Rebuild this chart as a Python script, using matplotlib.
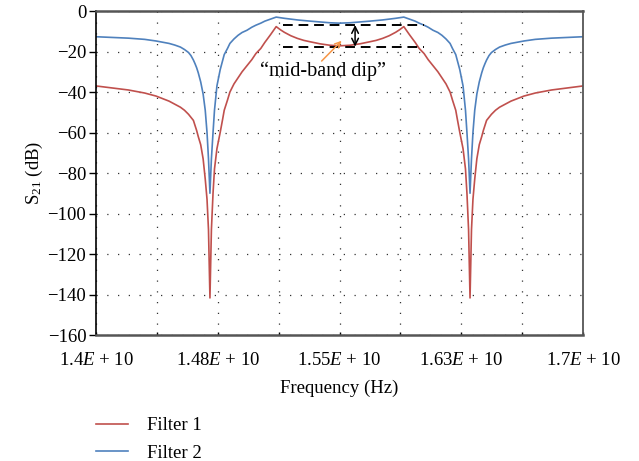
import matplotlib
matplotlib.use("Agg")
import matplotlib.pyplot as plt

plt.rcParams['font.family'] = ['Liberation Serif', 'DejaVu Serif']
plt.rcParams['mathtext.fontset'] = 'custom'
plt.rcParams['mathtext.rm'] = 'Liberation Serif'
plt.rcParams['mathtext.it'] = 'Liberation Serif:italic'

# frequency in units of 1E+10 Hz
freq_left = [1.400, 1.420, 1.430, 1.437, 1.445, 1.4485, 1.452, 1.4545, 1.457, 1.4585,
             1.460, 1.461, 1.462, 1.463, 1.4645, 1.466, 1.4673, 1.4684, 1.4693, 1.4702,
             1.4711, 1.4721, 1.473, 1.4745, 1.4755, 1.4765, 1.478, 1.479, 1.481, 1.4825,
             1.485, 1.4875, 1.490, 1.493, 1.496, 1.4985, 1.5015, 1.504, 1.5075, 1.511,
             1.5135, 1.516, 1.520, 1.524, 1.528, 1.532, 1.538, 1.544, 1.550]
freq_right = [1.5566, 1.5626, 1.5686, 1.5726, 1.5766, 1.5806, 1.5846, 1.5871, 1.5896, 1.5931,
              1.5966, 1.5991, 1.6021, 1.6046, 1.6076, 1.6106, 1.6131, 1.6156, 1.6181, 1.6196,
              1.6216, 1.6226, 1.6241, 1.6251, 1.6261, 1.6276, 1.6285, 1.6295, 1.6304, 1.6313,
              1.6322, 1.6333, 1.6346, 1.6361, 1.6376, 1.6386, 1.6396, 1.6406, 1.6421, 1.6436,
              1.6461, 1.6486, 1.6521, 1.6556, 1.6636, 1.6706, 1.6806, 1.700]

filter1_left = [-37.0, -39.0, -40.5, -42.0, -44.5, -46.0, -47.5, -49.0, -51.0, -52.5,
                -54.0, -56.5, -59.0, -62.0, -66.0, -73.0, -83.0, -93.0, -108.0, -141.7,
                -108.0, -90.0, -78.0, -68.0, -64.0, -60.0, -53.5, -49.0, -44.0, -40.0,
                -36.0, -33.0, -30.0, -27.0, -24.0, -21.0, -18.5, -15.5, -11.7, -7.7,
                -9.2, -10.5, -12.2, -13.5, -14.5, -15.2, -16.2, -16.9, -17.2]
filter1_right = [-16.9, -16.2, -15.2, -14.5, -13.5, -12.2, -10.5, -9.2, -7.7, -11.7,
                 -15.5, -18.5, -21.0, -24.0, -27.0, -30.0, -33.0, -36.0, -40.0, -44.0,
                 -49.0, -53.5, -60.0, -64.0, -68.0, -78.0, -90.0, -108.0, -141.7, -108.0,
                 -93.0, -83.0, -73.0, -66.0, -62.0, -59.0, -56.5, -54.0, -52.5, -51.0,
                 -49.0, -47.5, -46.0, -44.5, -42.0, -40.5, -39.0, -37.0]

filter2_left = [-12.7, -13.4, -14.0, -14.8, -16.0, -16.8, -17.8, -19.0, -20.5, -22.0,
                -24.2, -26.0, -28.0, -30.5, -35.0, -41.0, -49.0, -60.0, -73.0, -90.0,
                -73.0, -60.0, -49.0, -37.0, -33.0, -29.0, -24.5, -21.5, -18.5, -16.0,
                -13.8, -12.0, -10.6, -9.5, -8.0, -7.0, -6.0, -5.0, -4.0, -3.0,
                -3.3, -3.6, -4.0, -4.4, -4.7, -5.0, -5.4, -5.8, -6.0]
filter2_right = [-5.8, -5.4, -5.0, -4.7, -4.4, -4.0, -3.6, -3.3, -3.0, -4.0,
                 -5.0, -6.0, -7.0, -8.0, -9.5, -10.6, -12.0, -13.8, -16.0, -18.5,
                 -21.5, -24.5, -29.0, -33.0, -37.0, -49.0, -60.0, -73.0, -90.0, -73.0,
                 -60.0, -49.0, -41.0, -35.0, -30.5, -28.0, -26.0, -24.2, -22.0, -20.5,
                 -19.0, -17.8, -16.8, -16.0, -14.8, -14.0, -13.4, -12.7]

freq = freq_left + freq_right
filter1 = filter1_left + filter1_right
filter2 = filter2_left + filter2_right

xticks = [1.4, 1.475, 1.55, 1.625, 1.7]
xlabels = ['1.4', '1.48', '1.55', '1.63', '1.7']
xminor = [1.4375, 1.5125, 1.5875, 1.6625]
yticks = list(range(-160, 1, 20))

# annotation levels
dip_top = -6.9
dip_bottom = -17.6
dip_start, dip_end = 1.5152, 1.602
dip_arrow_x = 1.5596

fig = plt.figure(figsize=(6.39, 4.61), dpi=100)
ax = fig.add_axes([0.1502, 0.2733, 0.7622, 0.7028])

ax.plot(freq, filter1, color='#c0504d', lw=1.2, label='Filter 1')
ax.plot(freq, filter2, color='#4f81bd', lw=1.2, label='Filter 2')

ax.set_xlim(1.4, 1.7)
ax.set_ylim(-160, 0)
ax.set_xticks(xticks)
ax.set_xticklabels([s + '$E$ + 10' for s in xlabels])
ax.set_xticks(xminor, minor=True)
ax.set_yticks(yticks)

dots = (0, (1, 7.6))
ax.grid(True, which='both', axis='x', color='#333333', lw=0.9, linestyle=dots)
ax.grid(True, which='major', axis='y', color='#333333', lw=0.9, linestyle=dots)

ax.tick_params(axis='y', direction='out', length=5, width=1, labelsize=13.5, pad=2)
ax.tick_params(axis='x', which='both', direction='in', length=2, width=1, labelsize=13.5, pad=12)

for side in ['top', 'bottom']:
    ax.spines[side].set_color('#555555')
    ax.spines[side].set_linewidth(1.8)
ax.spines['right'].set_color('#555555')
ax.spines['right'].set_linewidth(1.3)
ax.spines['left'].set_color('black')
ax.spines['left'].set_linewidth(1.2)

ax.set_xlabel('Frequency (Hz)', fontsize=13.5, labelpad=8)
ax.set_ylabel('S$_{21}$ (dB)', fontsize=13.5, labelpad=2)

# mid-band dip annotation
ax.plot([dip_start, dip_end], [dip_top, dip_top], color='black', lw=1.4, ls=(0, (5, 3)))
ax.plot([dip_start, dip_end], [dip_bottom, dip_bottom], color='black', lw=1.4, ls=(0, (5, 3)))
ax.annotate('', xy=(dip_arrow_x, dip_bottom), xytext=(dip_arrow_x, dip_top),
            arrowprops=dict(arrowstyle='<->', color='black', lw=1.1,
                            shrinkA=0, shrinkB=0, mutation_scale=12))
ax.annotate('', xy=(1.5513, -14.7), xytext=(1.539, -24.7),
            arrowprops=dict(arrowstyle='->', color='#f79646', lw=1.1,
                            shrinkA=0, shrinkB=0, mutation_scale=10))
ax.text(1.5401, -30, '\u201cmid-band dip\u201d', fontsize=14.5, ha='center', va='center')

fig.legend(loc='upper left', bbox_to_anchor=(0.151, 0.095), frameon=False,
           fontsize=13.5, handlelength=1.7, handletextpad=1.0, labelspacing=0.55,
           borderaxespad=0, borderpad=0)

fig.savefig('out.png', dpi=100)
